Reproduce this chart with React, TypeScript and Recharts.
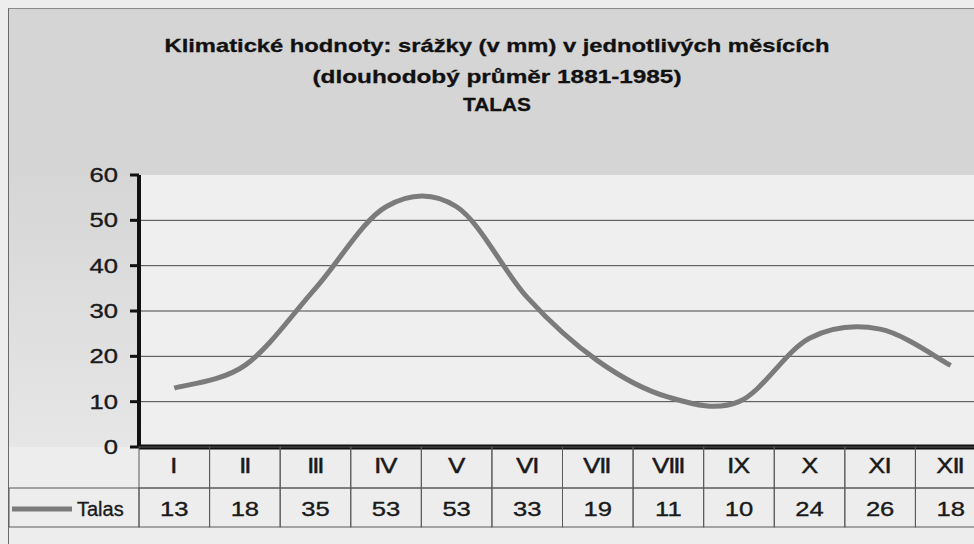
import React from 'react';
import { LineChart, Line, XAxis, YAxis, CartesianGrid } from 'recharts';

// ---------- data ----------
const months = ['Ⅰ', 'Ⅱ', 'Ⅲ', 'Ⅳ', 'Ⅴ', 'Ⅵ', 'Ⅶ', 'Ⅷ', 'Ⅸ', 'Ⅹ', 'Ⅺ', 'Ⅻ'];
const talas = [13, 18, 35, 53, 53, 33, 19, 11, 10, 24, 26, 18];
const yTicks = [0, 10, 20, 30, 40, 50, 60];
const gridValues = [10, 20, 30, 40, 50];
const seriesName = 'Talas';
const titleLines = [
  'Klimatické hodnoty: srážky (v mm) v jednotlivých měsících',
  '(dlouhodobý průměr 1881-1985)',
  'TALAS',
];

const data = months.map((m, i) => ({ month: m, talas: talas[i] }));

// ---------- layout ----------
const CHART_W = 1000;
const CHART_H = 544;
const PLOT_LEFT = 139;
const PLOT_RIGHT = 986;
const BAND = (PLOT_RIGHT - PLOT_LEFT) / months.length;
const FONT = '"Liberation Sans", Arial, sans-serif';
const SX = 1.28;
const LINE_COLOR = '#7b7b7b';
const CELL_STROKE = '#5a5a5a';
const TEXT_COLOR = '#1a1a1a';

// Excel-like smoothed line (Catmull-Rom style Bezier)
const smoothCurve = (context: any) => {
  let pts: [number, number][] = [];
  return {
    areaStart() {},
    areaEnd() {},
    lineStart() {
      pts = [];
    },
    point(x: number, y: number) {
      pts.push([+x, +y]);
    },
    lineEnd() {
      const n = pts.length;
      if (!n) return;
      context.moveTo(pts[0][0], pts[0][1]);
      for (let i = 0; i < n - 1; i++) {
        const p0 = pts[Math.max(0, i - 1)];
        const p1 = pts[i];
        const p2 = pts[i + 1];
        const p3 = pts[Math.min(n - 1, i + 2)];
        context.bezierCurveTo(
          p1[0] + (p2[0] - p0[0]) / 6,
          p1[1] + (p2[1] - p0[1]) / 6,
          p2[0] - (p3[0] - p1[0]) / 6,
          p2[1] - (p3[1] - p1[1]) / 6,
          p2[0],
          p2[1]
        );
      }
    },
  };
};

const StretchText = ({ x, y, anchor, size, weight, children }: any) => (
  <text
    transform={`translate(${x},${y}) scale(${SX},1)`}
    textAnchor={anchor}
    fontSize={size}
    fontWeight={weight || 'normal'}
    fontFamily={FONT}
    fill={TEXT_COLOR}
    stroke={TEXT_COLOR}
    strokeWidth={0.35}
  >
    {children}
  </text>
);

const YTick = (props: any) => {
  const { x, y, payload } = props;
  return (
    <StretchText x={x} y={y + 7} anchor="end" size={20}>
      {payload.value}
    </StretchText>
  );
};

const TableTick = (props: any) => {
  const { x, y, payload } = props;
  const i = props.index ?? payload.index;
  const left = x - BAND / 2;
  const row = data[i];
  return (
    <g>
      <rect x={left} y={y} width={BAND} height={41} fill="none" stroke={CELL_STROKE} strokeWidth={1} />
      <StretchText x={x} y={y + 26} anchor="middle" size={20}>
        {payload.value}
      </StretchText>
      <rect x={left} y={y + 41} width={BAND} height={39} fill="none" stroke={CELL_STROKE} strokeWidth={1} />
      <StretchText x={x} y={y + 69} anchor="middle" size={20}>
        {row ? row.talas : ''}
      </StretchText>
      {i === 0 && (
        <g>
          <rect x={9} y={y + 41} width={left - 9} height={39} fill="none" stroke={CELL_STROKE} strokeWidth={1} />
          <line x1={12} x2={72} y1={y + 62} y2={y + 62} stroke={LINE_COLOR} strokeWidth={5} />
          <text
            x={77}
            y={y + 69}
            fontSize={20}
            fontFamily={FONT}
            fill={TEXT_COLOR}
            stroke={TEXT_COLOR}
            strokeWidth={0.35}
          >
            {seriesName}
          </text>
        </g>
      )}
    </g>
  );
};

export default function App() {
  return (
    <div
      style={{
        position: 'absolute',
        left: 0,
        top: 0,
        width: 974,
        height: 544,
        overflow: 'hidden',
        background: '#ededed',
      }}
    >
      <div
        style={{
          position: 'absolute',
          left: 8,
          top: 8,
          width: 1000,
          height: 600,
          borderLeft: '1px solid #6a6a6a',
          borderTop: '1px solid #8a8a8a',
        }}
      />
      <div style={{ position: 'absolute', left: 9, top: 9, width: 1000, height: 166, background: '#d5d5d5' }} />
      <div
        style={{
          position: 'absolute',
          left: 9,
          top: 175,
          width: 130,
          height: 272,
          background: 'linear-gradient(#d6d6d6, #e6e6e6)',
        }}
      />
      <svg width={CHART_W} height={130} style={{ position: 'absolute', left: 0, top: 0 }}>
        {[
          { y: 52, len: 665 },
          { y: 83, len: 369 },
          { y: 111, len: 68 },
        ].map((l, k) => (
          <text
            key={k}
            x={497}
            y={l.y}
            textAnchor="middle"
            fontSize={19}
            fontWeight="bold"
            fontFamily={FONT}
            fill="#111"
            stroke="#111"
            strokeWidth={0.3}
            textLength={l.len}
            lengthAdjust="spacingAndGlyphs"
          >
            {titleLines[k]}
          </text>
        ))}
      </svg>
      <div style={{ position: 'absolute', left: 0, top: 0 }}>
        <LineChart
          width={CHART_W}
          height={CHART_H}
          data={data}
          margin={{ top: 175, right: CHART_W - PLOT_RIGHT, bottom: 17, left: 8 }}
        >
          <CartesianGrid
            horizontal
            vertical={false}
            horizontalValues={gridValues}
            stroke="#454545"
            strokeWidth={1}
            fill="#efefef"
            fillOpacity={1}
          />
          <XAxis
            dataKey="month"
            type="category"
            height={80}
            interval={0}
            padding={{ left: BAND / 2, right: BAND / 2 }}
            axisLine={{ stroke: '#111', strokeWidth: 5 }}
            tickLine={false}
            tickSize={0}
            tickMargin={0}
            tick={<TableTick />}
          />
          <YAxis
            type="number"
            domain={[0, 60]}
            ticks={yTicks}
            interval={0}
            width={131}
            axisLine={{ stroke: '#111', strokeWidth: 4 }}
            tickLine={{ stroke: '#111', strokeWidth: 3 }}
            tickSize={9}
            tickMargin={12}
            tick={<YTick />}
          />
          <Line
            dataKey="talas"
            name={seriesName}
            type={smoothCurve as any}
            stroke={LINE_COLOR}
            strokeWidth={5}
            dot={false}
            activeDot={false}
            isAnimationActive={false}
          />
        </LineChart>
      </div>
    </div>
  );
}
